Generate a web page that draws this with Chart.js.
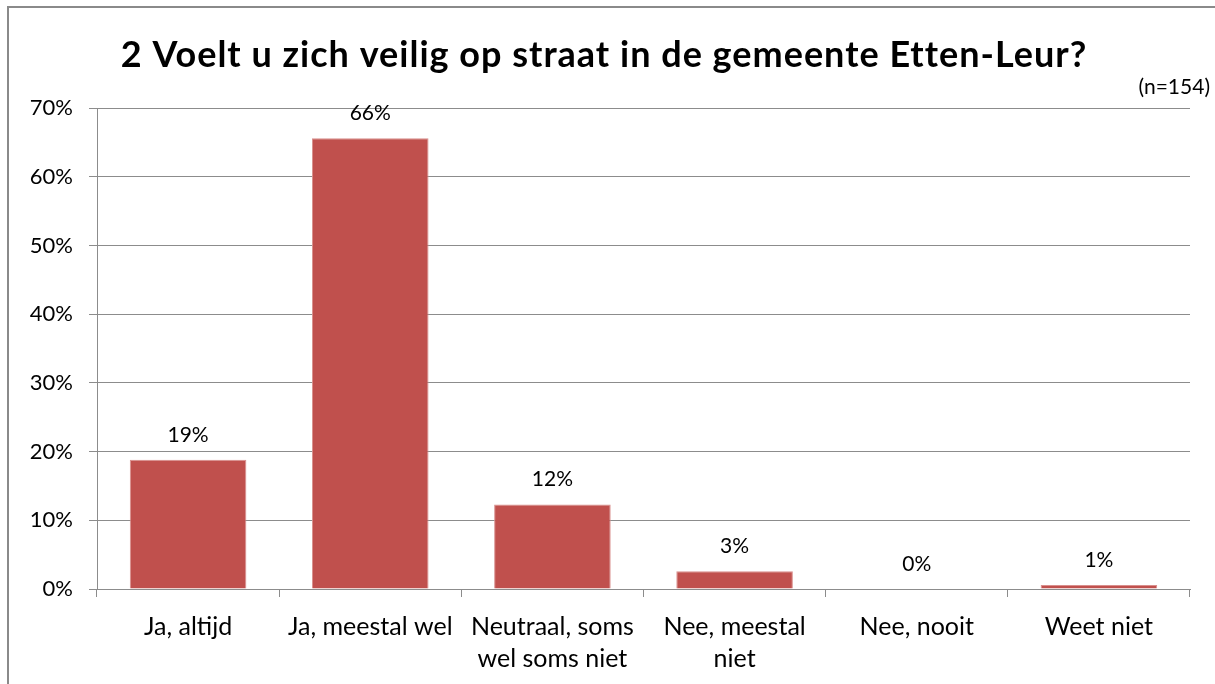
<!DOCTYPE html>
<html>
<head>
<meta charset="utf-8">
<script src="https://cdn.jsdelivr.net/npm/chart.js@4"></script>
<style>
  html,body{margin:0;padding:0;background:#fff;}
  #wrap{width:1215px;height:684px;position:relative;}
</style>
</head>
<body>
<div id="wrap"><canvas id="chart" width="1215" height="684"></canvas></div>
<script>
// \u200C keeps Lato from drawing the "ti" ligature
const categories = [
  'Ja, al\u200Ctijd',
  'Ja, meestal wel',
  ['Neutraal, soms', 'wel soms niet'],
  ['Nee, meestal', 'niet'],
  'Nee, nooit',
  'Weet niet'
];
const percentages = [18.8, 65.6, 12.3, 2.6, 0, 0.6];
const valueLabels = ['19%', '66%', '12%', '3%', '0%', '1%'];
const yTicks = [0, 10, 20, 30, 40, 50, 60, 70];

const TITLE = '2 Voelt u zich veilig op straat in de gemeente Etten-Leur?';
const SUBTITLE = '(n=154)';
const FONT = 'Lato, "Open Sans", sans-serif';
const GRID = '#8c8c8c';

const decor = {
  id:'decor',
  beforeDraw(chart){
    const c = chart.ctx;
    c.save();
    c.strokeStyle = '#8a8a8a'; c.lineWidth = 2;
    c.beginPath();
    c.moveTo(8, 684); c.lineTo(8, 7); c.lineTo(1215, 7);
    c.stroke();
    c.fillStyle = '#000';
    c.textAlign = 'center'; c.textBaseline = 'middle';
    c.font = 'bold 36px ' + FONT;
    c.letterSpacing = '1px';
    c.fillText(TITLE, 604, 55);
    c.letterSpacing = '0px';
    c.font = '21px ' + FONT;
    c.textAlign = 'right';
    c.fillText(SUBTITLE, 1210, 87);
    c.restore();
  },
  afterDatasetsDraw(chart){
    const c = chart.ctx;
    const meta = chart.getDatasetMeta(0);
    c.save();
    c.fillStyle = '#000';
    c.font = '21px ' + FONT;
    c.textAlign = 'center'; c.textBaseline = 'middle';
    meta.data.forEach((bar, i) => {
      c.fillText(valueLabels[i], bar.x, bar.y - 25);
    });
    c.restore();
  }
};

new Chart(document.getElementById('chart').getContext('2d'), {
  type:'bar',
  data:{
    labels: categories,
    datasets:[{
      data: percentages,
      backgroundColor:'#C0504D',
      borderColor:'#d98f8d',
      borderWidth:{top:1,left:1,right:1,bottom:0},
      barPercentage:0.64,
      categoryPercentage:1
    }]
  },
  options:{
    responsive:false,
    animation:false,
    layout:{ padding:{ top:108, left:20, right:25, bottom:0 } },
    plugins:{ legend:{display:false}, tooltip:{enabled:false}, title:{display:false} },
    scales:{
      y:{
        min:0, max:70,
        afterBuildTicks(axis){ axis.ticks = yTicks.map(v => ({value:v})); },
        afterFit(axis){ axis.width = 77; },
        border:{ color:GRID, width:1 },
        grid:{ color:GRID, lineWidth:1, tickLength:8, drawTicks:true },
        ticks:{ color:'#000', font:{ size:22, family:FONT }, padding:16,
          callback:v => v + '%' }
      },
      x:{
        offset:true,
        afterFit(axis){ axis.height = 95; },
        border:{ color:GRID, width:1 },
        grid:{ offset:true, color:GRID, drawOnChartArea:false, tickLength:8 },
        ticks:{ color:'#000', font:{ size:25, family:FONT, lineHeight:1.28 }, padding:14,
          maxRotation:0, autoSkip:false }
      }
    }
  },
  plugins:[decor]
});
</script>
</body>
</html>
